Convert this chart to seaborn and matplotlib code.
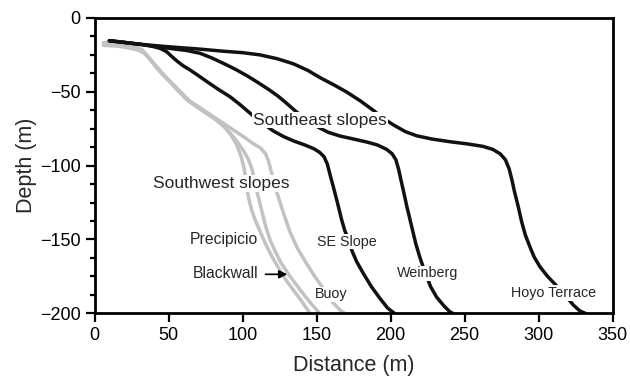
import numpy as np
import matplotlib
matplotlib.use("Agg")
import matplotlib.pyplot as plt
import seaborn as sns
from matplotlib.ticker import MultipleLocator

# ---- data (distance m, depth m) ----
se_slope_x = [9.9, 20, 30.6, 38, 44, 48.6, 52, 56, 60, 64.4, 70, 75.7, 83, 91.4, 98, 105, 113, 120.7, 128, 135, 142, 148, 152, 155,
              157.2, 159, 161.2, 164, 166.9, 169, 171.4, 174, 177, 181.5, 187, 192.8, 198, 202.5]
se_slope_y = [-15.4, -16.5, -17.8, -19, -20.5, -22.8, -26, -29.5, -32.5, -35.2, -39, -43, -48, -53.3, -58.5, -64.5, -71, -76.5, -80.5,
              -83.5, -86, -88.5, -91, -94, -99, -106, -114.2, -125, -136.8, -144, -150, -158, -165, -173, -182, -190, -196.5, -200]

weinberg_x = [9.9, 30.6, 50, 62, 71.2, 79, 86.9, 95, 102.7, 110, 118.4, 124, 129.7, 135, 140, 146, 152, 158, 166, 175, 183.8, 191,
              197.3, 201, 203.5, 205.5, 207, 208.6, 211, 214.2, 217, 220, 223.5, 227, 231, 236, 240, 242]
weinberg_y = [-15.4, -17.8, -20.5, -22, -23.9, -27, -30.7, -34.7, -39, -43.5, -49, -53, -57.8, -62.5, -66.5, -71, -74.5, -77.5, -80,
              -82, -84, -86, -89, -92, -96, -103, -110, -117, -128, -141.3, -153, -163, -173, -182, -189, -195, -199, -200]

hoyo_x = [9.9, 30.6, 50, 70, 86.9, 100, 111.7, 123, 134.2, 144, 153, 162, 170, 179.3, 188.2, 195, 202, 210, 217.6, 228, 240, 252,
          262.6, 269, 274, 277.5, 280, 282, 283.5, 286, 288.5, 291, 294.1, 297, 300.9, 306, 312.2, 318, 323.4, 328, 331.5]
hoyo_y = [-15.4, -17.8, -19.5, -21, -22.5, -23.5, -25, -27.5, -31, -35.5, -40.8, -45.5, -50, -56, -62.5, -68, -72.5, -77, -79.8, -82,
          -83.8, -85.3, -87, -89, -92, -96, -102, -110, -117, -127, -138, -147, -155, -162, -168.5, -175, -181.5, -188, -194.4,
          -198.5, -200]

precipicio_x = [5.9, 15, 24, 29, 32, 35, 38.5, 42, 46, 51, 56, 62, 70, 80, 87, 92, 96, 99, 101, 102.5, 103.8, 106, 108.5, 111.5,
                115, 119.5, 124, 129, 134.2, 140, 145.5]
precipicio_y = [-16.7, -17.3, -18.5, -19.8, -21.5, -25, -29.5, -34, -38.5, -43.5, -49, -55, -61, -67.5, -73, -79, -86, -94, -102,
                -112, -121, -130, -137, -144, -152, -161, -169, -177, -184.2, -192, -200]

blackwall_x = [5.9, 15, 24, 30, 33, 36.5, 40, 44, 48, 53, 58, 63, 72, 81, 89, 95, 100, 104, 106.5, 108, 110.5, 113, 115.5, 118.4,
               122, 126, 132, 138, 145, 152]
blackwall_y = [-17.5, -18, -19.5, -21, -23, -26.5, -31, -35.5, -40, -45, -50.5, -56, -62, -68, -75, -82, -89, -96, -103, -111, -121,
               -131, -141, -150, -158, -166, -175, -183, -192, -200]

buoy_x = [5.9, 15, 24, 30, 33.5, 37, 41, 45, 49, 54, 59, 64, 73, 82, 91, 100, 107, 112, 115.5, 117.5, 119.5, 121.5, 124, 127.5,
          132, 137, 143, 148, 155, 161.2, 166, 169]
buoy_y = [-18.5, -19, -20.5, -22, -24, -27.5, -32, -36.5, -41, -46, -51, -56, -62, -68, -74, -80, -85, -88, -92, -97, -105, -113,
          -121, -132, -145, -156, -166, -174, -184, -193, -198, -200]

x_ticks = [0, 50, 100, 150, 200, 250, 300, 350]
y_ticks = [0, -50, -100, -150, -200]

# ---- style ----
sns.set_style("ticks")
plt.rcParams["font.family"] = ["Liberation Sans", "DejaVu Sans"]
plt.rcParams.update({
    "axes.linewidth": 2.0,
    "xtick.major.width": 1.6,
    "ytick.major.width": 1.6,
    "ytick.minor.width": 1.6,
    "xtick.major.size": 6.5,
    "ytick.major.size": 6.5,
    "ytick.minor.size": 3.5,
    "xtick.labelsize": 13,
    "ytick.labelsize": 13,
    "axes.edgecolor": "black",
    "xtick.color": "black",
    "ytick.color": "black",
})

negro = "#111111"
gris = "#c2c2c2"

fig = plt.figure(figsize=(6.3, 3.81), dpi=100)
ax = fig.add_axes([0.1503, 0.1777, 0.8222, 0.7751])

for xs, ys in [(precipicio_x, precipicio_y), (blackwall_x, blackwall_y), (buoy_x, buoy_y)]:
    sns.lineplot(x=xs, y=ys, sort=False, estimator=None, color=gris, lw=2.5,
                 solid_joinstyle="round", ax=ax)
for xs, ys in [(se_slope_x, se_slope_y), (weinberg_x, weinberg_y), (hoyo_x, hoyo_y)]:
    sns.lineplot(x=xs, y=ys, sort=False, estimator=None, color=negro, lw=2.5,
                 solid_joinstyle="round", ax=ax)

caja = dict(facecolor="white", edgecolor="none", pad=0.5)
ax.text(152.2, -69.1, "Southeast slopes", fontsize=12.5, ha="center", va="center", bbox=caja, zorder=5)
ax.text(85.8, -112, "Southwest slopes", fontsize=12.5, ha="center", va="center", bbox=caja, zorder=5)
ax.text(87.4, -150.3, "Precipicio", fontsize=11.3, ha="center", va="center", bbox=caja, zorder=5)
ax.text(88.6, -172.9, "Blackwall", fontsize=11.3, ha="center", va="center", bbox=caja, zorder=5)
ax.text(159.7, -187.1, "Buoy", fontsize=10.3, ha="center", va="center", bbox=caja, zorder=5)
ax.text(170.3, -151.5, "SE Slope", fontsize=10.3, ha="center", va="center", bbox=caja, zorder=5)
ax.text(224.9, -172.9, "Weinberg", fontsize=10.3, ha="center", va="center", bbox=caja, zorder=5)
ax.text(309.9, -186.4, "Hoyo Terrace", fontsize=10.3, ha="center", va="center", bbox=caja, zorder=5)
ax.annotate("", xy=(132, -173.6), xytext=(113.5, -173.6),
            arrowprops=dict(arrowstyle="-|>", color="black", lw=1.2, mutation_scale=12), zorder=6)

ax.set_xlim(0, 350)
ax.set_ylim(-200, 0)
ax.set_xticks(x_ticks)
ax.set_yticks(y_ticks)
ax.yaxis.set_minor_locator(MultipleLocator(12.5))
ax.set_xlabel("Distance (m)", fontsize=15.5, labelpad=8)
ax.set_ylabel("Depth (m)", fontsize=15.5, labelpad=2)
for s in ax.spines.values():
    s.set_visible(True)

fig.savefig("out.png", dpi=100)
